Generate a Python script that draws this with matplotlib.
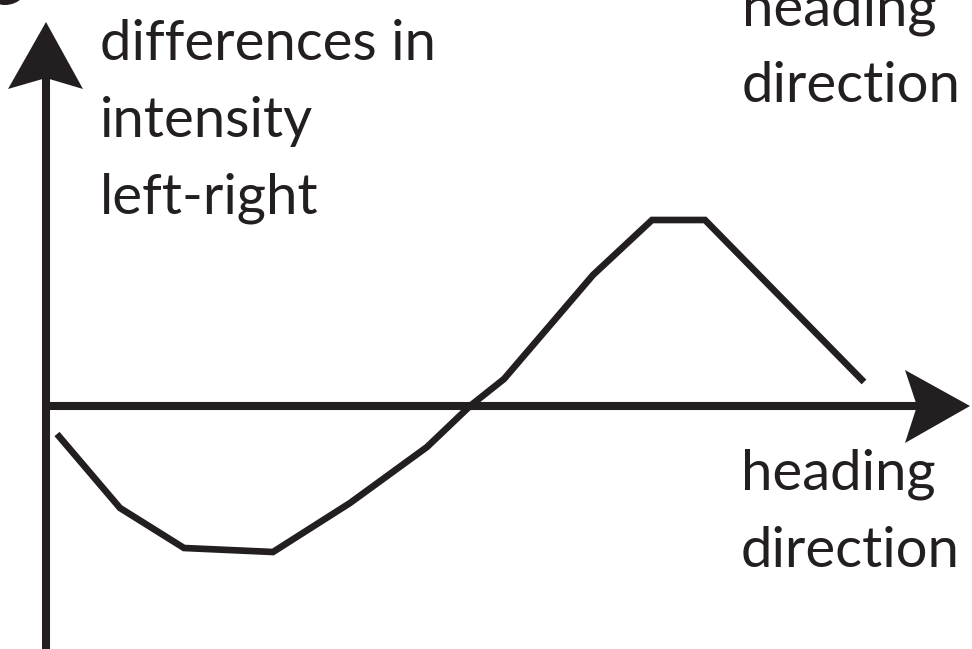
import numpy as np
import matplotlib
matplotlib.use("Agg")
import matplotlib.pyplot as plt
from matplotlib.patches import Polygon, Circle

# curve, origin at the axes crossing (units ~ pixels)
heading = [11, 74, 138, 227, 304, 381, 424, 458, 547, 606, 659, 818]
diff = [-28, -102, -142, -146, -97, -41, 0, 27, 131, 186, 186, 24]

y_label = ["differences in", "intensity", "left-right"]
x_label = ["heading", "direction"]

ink = "#231f20"
plt.rcParams['font.family'] = ['Lato', 'DejaVu Sans']

fig = plt.figure(figsize=(9.72, 6.49), dpi=100)
ax = fig.add_axes([0, 0, 1, 1])
ax.set_xlim(-46, 926)
ax.set_ylim(-243, 406)
ax.axis('off')

# axes shafts
ax.plot([0, 0], [-243, 330], color=ink, lw=5.8, solid_capstyle='butt')
ax.plot([0, 875], [0, 0], color=ink, lw=5.8, solid_capstyle='butt')

# notched arrow heads
ax.add_patch(Polygon([[0, 384], [37, 317], [0, 328], [-38, 317]], closed=True, color=ink, lw=0))
ax.add_patch(Polygon([[924, 0], [859, -37], [871, 0], [859, 36]], closed=True, color=ink, lw=0))

# the response curve
ax.plot(heading, diff, color=ink, lw=4.8, solid_capstyle='butt', solid_joinstyle='miter')

# cut-off panel badge in the corner
ax.add_patch(Circle((-41, 426), 25, color=ink, lw=0, clip_on=False))

fs = 40.5
for i, s in enumerate(y_label):
    ax.text(100 - 46, 406 - (60 + 77 * i), s, fontsize=fs, color=ink, ha='left', va='baseline')
for i, s in enumerate(x_label):
    ax.text(741 - 46, 406 - (490 + 77 * i), s, fontsize=fs, color=ink, ha='left', va='baseline')
    ax.text(742 - 46, 406 - (25 + 77 * i), s, fontsize=fs, color=ink, ha='left', va='baseline')

fig.savefig("out.png", dpi=100)
